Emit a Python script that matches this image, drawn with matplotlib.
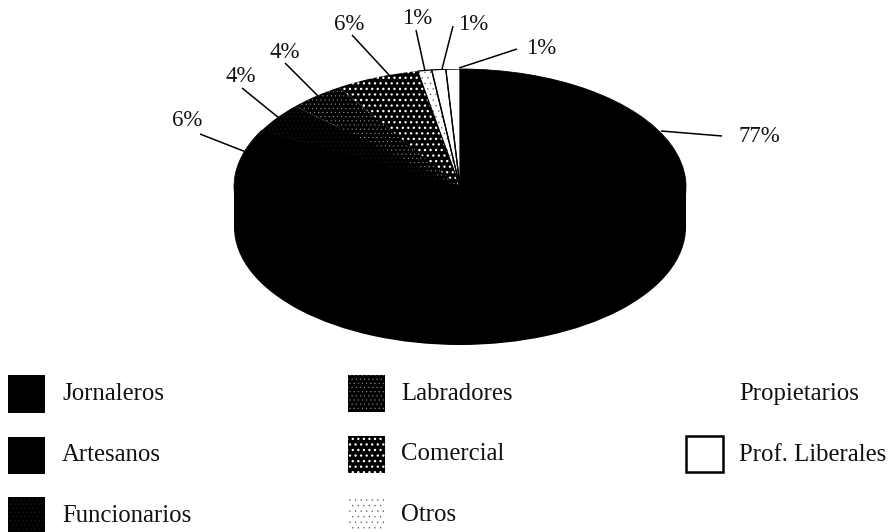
import matplotlib.pyplot as plt
from matplotlib.patches import Rectangle, Wedge

plt.rcParams['font.family'] = ['Liberation Serif', 'DejaVu Serif']

W, H = 889, 532

# clockwise from 12 o'clock
categories = ['Jornaleros', 'Artesanos', 'Funcionarios', 'Labradores',
              'Comercial', 'Otros', 'Propietarios', 'Prof. Liberales']
shares = [77, 6, 4, 4, 6, 1, 1, 1]
share_labels = ['77%', '6%', '4%', '4%', '6%', '1%', '1%', '1%']

# pixel layout of the ellipse
left, right, top, bottom = 234, 686, 69, 305
depth = 40

# (face, hatch colour, hatch, hatch width)
styles = [('black', 'black', None, 0.5),
          ('black', 'black', None, 0.5),
          ('black', '#161616', '....', 0.5),
          ('black', '#b0b0b0', '....', 0.2),
          ('black', 'white', '...', 0.9),
          ('white', '#222222', '...', 0.1),
          ('white', 'white', None, 0.5),
          ('white', 'white', None, 0.5)]

# label centre, then leader line start and end
label_pos = [(759, 137), (187, 120), (241, 77), (285, 52),
             (349, 25), (417, 18), (473, 25), (541, 48)]
leader_from = [(722, 136), (200, 134), (242, 88), (285, 63),
               (352, 35), (416, 30), (453, 26), (517, 49)]
leader_to = [(661, 131), (246, 152), (279, 118), (319, 97),
             (390, 76), (425, 71), (442, 69), (459, 68)]

# legend swatch left/top/height and text position
legend_x = [8, 8, 8, 348, 348, 348, 686, 686]
legend_y = [375, 437, 497, 375, 436, 497, 375, 436]
legend_h = [38, 37, 35, 37, 37, 35, 36, 36]
legend_text_x = [62, 62, 62, 401, 401, 401, 739, 739]
legend_text_y = [394, 455, 516, 394, 454, 515, 394, 455]

fig = plt.figure(figsize=(W / 100, H / 100), dpi=100)


def pie_axes(shift, zorder):
    a = fig.add_axes([left / W, 1 - (bottom + shift) / H, (right - left) / W, (bottom - top) / H], zorder=zorder)
    a.axis('off')
    return a


# side of the disc: a black pie further down plus the block joining both
side = pie_axes(depth, 1)
side.pie([1], colors=['black'], radius=1)
side.set_aspect('auto')
side.set_xlim(-1, 1)
side.set_ylim(-1, 1)

ax = pie_axes(0, 3)
wedges, _ = ax.pie(shares, startangle=90, counterclock=False, radius=1)
ax.set_aspect('auto')
ax.set_xlim(-1, 1)
ax.set_ylim(-1, 1)
for w, (face, hcol, hatch, hw) in zip(wedges, styles):
    w.set_facecolor(face)
    w.set_edgecolor(hcol)
    w.set_hatch(hatch)
    w.set_hatch_linewidth(hw)
    w.set_linewidth(0.6 if face == 'black' and hatch is None else 0)
# thin black dividers for the white slices
for w in wedges[5:]:
    ax.add_patch(Wedge(w.center, w.r, w.theta1, w.theta2, fc='none', ec='black', lw=0.9))

# overlay in pixel coordinates for block, leaders and legend
ov = fig.add_axes([0, 0, 1, 1], zorder=2)
ov.set_xlim(0, W)
ov.set_ylim(H, 0)
ov.axis('off')
ov.add_patch(Rectangle((left, (top + bottom) / 2), right - left, depth, fc='black', ec='none'))

top_ov = fig.add_axes([0, 0, 1, 1], zorder=4)
top_ov.set_xlim(0, W)
top_ov.set_ylim(H, 0)
top_ov.axis('off')
top_ov.patch.set_alpha(0)

for lab, p, a, b in zip(share_labels, label_pos, leader_from, leader_to):
    top_ov.plot([a[0], b[0]], [a[1], b[1]], color='black', lw=1.1, solid_capstyle='butt')
    top_ov.text(p[0], p[1], lab, fontsize=16.5, ha='center', va='center', color='#111111')

for i, name in enumerate(categories):
    face, hcol, hatch, hw = styles[i]
    if name == 'Prof. Liberales':
        top_ov.add_patch(Rectangle((legend_x[i], legend_y[i]), 37, legend_h[i], fc='white', ec='black', lw=1.8))
    elif name != 'Propietarios':
        sw = Rectangle((legend_x[i], legend_y[i]), 37, legend_h[i], fc=face, ec=hcol, hatch=hatch, lw=0)
        sw.set_hatch_linewidth(hw)
        top_ov.add_patch(sw)
    top_ov.text(legend_text_x[i], legend_text_y[i], name, fontsize=17.8, ha='left', va='center', color='#111111')

fig.savefig('out.png', dpi=100)
